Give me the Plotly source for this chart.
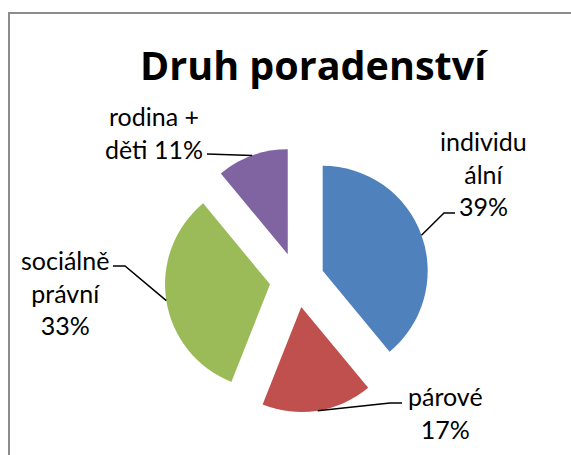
import math
import plotly.graph_objects as go

# ---- data ----
categories = ["individuální", "párové", "sociálně právní", "rodina + děti"]
values = [39, 17, 33, 11]
label_texts = ["individu<br>ální<br>39%", "párové<br>17%", "sociálně<br>právní<br>33%", "rodina +<br>děti 11%"]
colors = ["#4F81BD", "#C0504D", "#9BBB59", "#8064A2"]
title_text = "Druh poradenství"

W, H = 571, 455
PULL = 0.26
CX, CY, R = 297, 280, 105          # pie centre and slice radius in px
HALF = R * (1 + PULL)

def px(x):
    return x / W

def py(y):
    return 1 - y / H

# label centres (px) and leader elbow points (px)
label_pos = [(483, 173), (445, 412), (65, 292), (154, 132)]
elbows = [[(455, 213), (444, 213)], [(402, 403), (390, 403)], [(113, 266), (125, 266)], [(207, 154)]]

fig = go.Figure(go.Pie(
    labels=categories, values=values, sort=False, direction="clockwise", rotation=0,
    pull=[PULL] * len(values), marker=dict(colors=colors, line=dict(width=0)),
    textinfo="none", hoverinfo="label+percent", showlegend=False,
    domain=dict(x=[px(CX - HALF), px(CX + HALF)], y=[py(CY + HALF), py(CY - HALF)]),
))

total = sum(values)
cum = 0
shapes = [dict(type="path", xref="paper", yref="paper",
               path=f"M {px(9):.5f},0 L {px(9):.5f},{py(13):.5f} L 1,{py(13):.5f}",
               line=dict(color="#8C8C8C", width=2))]
annotations = []
for i, v in enumerate(values):
    mid = (cum + v / 2) / total * 2 * math.pi
    cum += v
    ax = CX + R * (1 + PULL) * math.sin(mid)
    ay = CY - R * (1 + PULL) * math.cos(mid)
    pts = elbows[i] + [(ax, ay)]
    path = "M " + " L ".join(f"{px(x):.5f},{py(y):.5f}" for x, y in pts)
    shapes.append(dict(type="path", xref="paper", yref="paper", path=path,
                       line=dict(color="black", width=1.5)))
    lx, ly = label_pos[i]
    annotations.append(dict(text=label_texts[i], x=px(lx), y=py(ly), xref="paper", yref="paper",
                            showarrow=False, xanchor="center", yanchor="middle", align="center",
                            font=dict(family="Lato", size=25, color="black")))

annotations.append(dict(text=f"<b>{title_text}</b>", x=px(314), y=py(65), xref="paper", yref="paper",
                        showarrow=False, xanchor="center", yanchor="middle",
                        font=dict(family="Open Sans", size=39.5, color="black")))

fig.update_layout(width=W, height=H, margin=dict(l=0, r=0, t=0, b=0),
                  paper_bgcolor="white", plot_bgcolor="white",
                  shapes=shapes, annotations=annotations)
fig.write_html("out.html", config={"displayModeBar": False},
               post_script="document.body.style.margin='0';document.body.style.overflow='hidden';")
